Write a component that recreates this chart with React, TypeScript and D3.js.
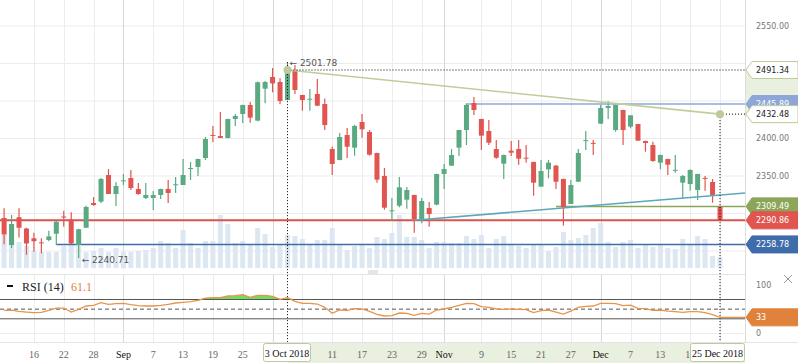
import React from 'react';
import * as d3 from 'd3';

// trading days shown on the chart (weekdays, one closed day)
const closedDays = ['2018-11-06'];
const fmtDay = d3.timeFormat('%Y-%m-%d');
const days = d3.timeDay
  .range(new Date(2018, 7, 10), new Date(2018, 11, 26))
  .filter(d => d.getDay() % 6 !== 0)
  .map(fmtDay)
  .filter(s => !closedDays.includes(s));

const openP = [
  2294, 2258, 2295, 2280, 2267, 2261.5, 2264.7, 2273, 2296, 2292,
  2258, 2281, 2314, 2315.8, 2351.3, 2326, 2343.5, 2347.3, 2332.7, 2320.7,
  2320.7, 2324.7, 2332.7, 2338.5, 2338, 2359.3, 2362, 2374, 2404.7, 2403.3,
  2400.7, 2426, 2432.7, 2444.7, 2423.8, 2466.4, 2482, 2475.3, 2451.3, 2491.3,
  2458, 2452.5, 2459.3, 2446, 2386, 2371.3, 2404.7, 2387.8, 2422, 2408.7,
  2380.7, 2350, 2303.5, 2310.4, 2318.4, 2324.7, 2291.3, 2307.3, 2311.8, 2352.7,
  2363.8, 2387.8, 2411.3, 2447.3, 2426, 2410, 2386, 2366.4, 2383.8, 2386,
  2374.4, 2368.7, 2335.8, 2358.9, 2363.8, 2346, 2312.7, 2342.4, 2397.3, 2394.2,
  2419.8, 2440.7, 2411.3, 2438, 2415.8, 2419.3, 2396.7, 2391.3, 2367.8, 2372.7,
  2357.8, 2341.1, 2339.3, 2331.3, 2347.5, 2342, 2309,
];
const highP = [
  2307, 2298, 2307, 2281, 2274.4, 2267, 2277, 2289.5, 2303.8, 2301.5,
  2279.5, 2310.4, 2322, 2347.3, 2359.3, 2342, 2352.7, 2358, 2340.7, 2340.7,
  2330, 2333, 2344.7, 2348.7, 2372.7, 2368.7, 2373, 2402, 2416.7, 2435.3,
  2426.5, 2432.7, 2445, 2448.7, 2476, 2476.7, 2494, 2480.2, 2501.78, 2498,
  2458.5, 2466, 2479.3, 2453.5, 2389, 2407.3, 2414, 2418.4, 2432.7, 2411.3,
  2381, 2360.7, 2320.7, 2348.7, 2335.3, 2325, 2320.7, 2315.3, 2353, 2366,
  2386, 2411.5, 2446.9, 2455.3, 2426.5, 2424.7, 2398, 2378.5, 2396.7, 2398,
  2391.3, 2369, 2371.3, 2371.3, 2364.7, 2346.5, 2344.7, 2386, 2410, 2398,
  2444.7, 2450, 2445, 2438.5, 2431, 2419.5, 2397, 2395.8, 2378.5, 2373,
  2378, 2351.3, 2358.9, 2353, 2350, 2346, 2309.5,
];
const lowP = [
  2259, 2254, 2268, 2245, 2249, 2247, 2263, 2258, 2282.4, 2259,
  2240.71, 2281, 2310.4, 2314, 2326, 2310, 2338, 2331.3, 2325, 2319.3,
  2304.7, 2319.3, 2314, 2327.3, 2338, 2344.7, 2350, 2371.3, 2395.3, 2400.5,
  2400, 2416.7, 2420.7, 2421.1, 2423, 2446.9, 2461.5, 2446, 2451, 2459.3,
  2437, 2437, 2443.5, 2411.3, 2351.3, 2371, 2374, 2377.1, 2401.1, 2377.1,
  2341.1, 2305.1, 2290, 2308.2, 2306.4, 2274.4, 2286.9, 2282.4, 2311, 2332.7,
  2363.5, 2376.7, 2391.3, 2431.3, 2384.7, 2391.3, 2373.1, 2346, 2376.7, 2365.1,
  2367.8, 2323.8, 2335.5, 2346.9, 2332.7, 2283.8, 2312.5, 2342, 2384.7, 2378,
  2419.5, 2426, 2409.1, 2391.3, 2413.6, 2397, 2382.4, 2369.1, 2358.9, 2351.3,
  2354.4, 2320.2, 2330.4, 2318, 2330.4, 2314.4, 2290,
];
const closeP = [
  2272, 2286, 2281, 2260, 2263, 2261, 2269.5, 2289, 2295.5, 2260,
  2279, 2308.7, 2311.3, 2346, 2326, 2336.7, 2344.2, 2334, 2326, 2324.7,
  2324.7, 2332.7, 2327.3, 2339, 2351.3, 2360.7, 2372.7, 2399.3, 2404.3, 2400.7,
  2426, 2430, 2444.7, 2427.8, 2475, 2475.3, 2473.5, 2450, 2491.34, 2464.7,
  2451.3, 2453, 2443.8, 2418, 2366, 2402, 2389, 2416.7, 2412.2, 2378.4,
  2345.1, 2307.8, 2304.2, 2334.9, 2331.3, 2292.7, 2316.7, 2299.3, 2352.7, 2359.3,
  2378, 2411.3, 2444.7, 2438, 2403.8, 2394.4, 2374.4, 2378, 2381.1, 2373.1,
  2374, 2341.1, 2356.7, 2367.8, 2342.4, 2308.2, 2338, 2380.7, 2397.8, 2393.8,
  2440.7, 2443.3, 2444.7, 2411.3, 2430.9, 2397.1, 2394, 2370, 2378, 2365.1,
  2358.2, 2350, 2358, 2352.7, 2347.1, 2324.7, 2290.86,
];
const volume = [
  33, 32, 26, 22, 17, 16, 16, 16, 22, 23,
  22, 16, 17, 20, 16, 20, 16, 16, 17, 18,
  20, 27, 25, 20, 38, 25, 20, 27, 27, 53,
  44, 25, 27, 24, 40, 34, 21, 24, 33, 32,
  29, 23, 28, 28, 40, 23, 18, 22, 23, 20,
  31, 29, 35, 53, 31, 31, 28, 20, 26, 26,
  25, 25, 32, 29, 33, 20, 29, 32, 23, 22,
  20, 24, 23, 17, 21, 36, 28, 30, 33, 40,
  45, 26, 21, 26, 28, 20, 23, 21, 23, 20,
  19, 29, 24, 32, 29, 12, 11,
];
const rsi = [
  47.5, 48, 45.4, 44, 42.7, 43.4, 47.5, 52.3, 52.3, 44,
  49.6, 56.5, 57.9, 63.4, 59.9, 61.3, 62, 59.2, 57.2, 56.5,
  56.5, 57.9, 59.9, 62.7, 64, 65.4, 68.2, 73, 73.7, 73.7,
  77.2, 77.9, 80, 74.4, 78.6, 78.6, 76.5, 70.3, 73.7, 66.1,
  62, 62, 60.6, 53.7, 41.3, 48.2, 47.5, 51, 50.3, 45.4,
  39.2, 35.8, 36.5, 42, 41.3, 37.2, 41.3, 39.9, 48.2, 50.3,
  53.7, 57.9, 62, 61.3, 55.1, 53.7, 50.3, 49.6, 50.3, 49.6,
  48.9, 42.7, 46.8, 48.2, 44, 39.9, 46.1, 53.7, 55.8, 56.5,
  62, 62, 61.3, 57.2, 58.5, 51.7, 51, 47.5, 48.2, 46.1,
  44.8, 43.4, 44.8, 44.8, 42.7, 38.5, 33,
];

const tickDays = [
  '2018-08-16', '2018-08-22', '2018-08-28', '2018-09-03', '2018-09-07', '2018-09-13',
  '2018-09-19', '2018-09-25', '2018-10-01', '2018-10-05', '2018-10-11', '2018-10-17',
  '2018-10-23', '2018-10-29', '2018-11-01', '2018-11-09', '2018-11-15', '2018-11-21',
  '2018-11-27', '2018-12-03', '2018-12-07', '2018-12-13', '2018-12-19', '2018-12-25',
];
const tickLabels = [
  '16', '22', '28', 'Sep', '7', '13', '19', '25', 'Oct', '5', '11', '17',
  '23', '29', 'Nov', '9', '15', '21', '27', 'Dec', '7', '13', '19', '25',
];
const priceTicks = [2250, 2300, 2350, 2400, 2450, 2500, 2550];

// horizontal levels: price, first day, colour
const levelPrices = [2258.78, 2445.89, 2309.49, 2290.86];
const levelStart = ['2018-08-21', '2018-11-07', '2018-11-23', '2018-08-10'];
const levelColors = ['#3f6cab', '#8ea7d8', '#8ba659', '#d9534f'];

const GREEN = '#5aa983';
const RED = '#e0554f';

export default function App() {
  const idx = new Map(days.map((d, i) => [d, i] as [string, number]));
  const right = 745;
  const x = d3.scaleLinear().domain([-0.55, 99.35]).range([0, right]);
  const y = d3.scaleLinear().domain([2227.33, 2584.67]).range([268, 0]);
  const yr = d3.scaleLinear().domain([0, 100]).range([333.3, 285]);
  const vh = d3.scaleLinear().domain([0, 60]).range([0, 60]);
  const volBase = 268;

  const iHigh = 38;
  const iLast = days.length - 1;
  const iLow = lowP.indexOf(d3.min(lowP) as number);

  const rsiLine = d3.line<number>().x((_, i) => x(i)).y(v => yr(v))(rsi) as string;
  const rsiArea = d3.area<number>()
    .x((_, i) => x(i))
    .y0(yr(70))
    .y1(v => yr(Math.max(v, 70)))(rsi) as string;

  const resistA = { i: iHigh, p: closeP[iHigh] };
  const resistB = { i: iLast, p: 2432.48 };
  const supportA = { i: idx.get('2018-10-26') as number, p: 2291 };
  const supportB = { i: iLast, p: 2324.5 };
  const supportEnd = x.invert(right);
  const supportPEnd = supportA.p + (supportB.p - supportA.p) * (supportEnd - supportA.i) / (supportB.i - supportA.i);

  // date boxes of the crosshairs on the time axis
  const boxA = { x0: 263.5, w: 47 };
  const boxB = { x0: 690.5, w: 54 };
  const hidden = (xx: number) =>
    (xx > boxA.x0 && xx < boxA.x0 + boxA.w) || (xx > boxB.x0 && xx < boxB.x0 + boxB.w);

  const tag = (p: number, fill: string, stroke: string, color: string, key: string, yy?: number) => {
    const cy = yy ?? y(p);
    return (
      <g key={key}>
        <path d={`M746,${cy} L752,${cy - 8.5} H798 V${cy + 8.5} H752 Z`} fill={fill} stroke={stroke} strokeWidth={1} />
        <text x={756} y={cy + 3} fontSize={8} fontFamily="DejaVu Sans" fill={color}>{key}</text>
      </g>
    );
  };

  // price tick labels that are not under a level tag
  const tagYs = [resistA.p, resistB.p, ...levelPrices].map(p => y(p));
  const freeTicks = priceTicks.filter(p => tagYs.every(t => Math.abs(t - y(p)) > 9));

  return (
    <svg width={798} height={363} style={{ position: 'absolute', left: 0, top: 0, background: '#fff' }}>
      {/* gridlines */}
      {priceTicks.map(p => (
        <line key={p} x1={0} x2={right} y1={y(p)} y2={y(p)} stroke="#ececec" />
      ))}
      {tickDays.map((d, k) => {
        const xx = Math.round(x(idx.get(d) as number)) + 0.5;
        const month = isNaN(+tickLabels[k]);
        const c = month ? '#d8d8d8' : '#ececec';
        return (
          <g key={d}>
            <line x1={xx} x2={xx} y1={0} y2={269} stroke={c} />
            <line x1={xx} x2={xx} y1={275} y2={342} stroke={c} />
          </g>
        );
      })}
      <line x1={0} x2={right} y1={274.5} y2={274.5} stroke="#e4e4e4" />
      <line x1={0} x2={right} y1={333.5} y2={333.5} stroke="#ececec" />
      <line x1={0} x2={798} y1={342.5} y2={342.5} stroke="#e4e4e4" />
      <line x1={right + 0.5} x2={right + 0.5} y1={0} y2={342} stroke="#dcdcdc" />

      {/* volume */}
      {volume.map((v, i) => (
        <rect key={i} x={x(i) - 2.5} y={volBase - vh(v)} width={5} height={vh(v)} fill="#dce7f2" />
      ))}

      {/* horizontal levels */}
      {levelPrices.map((p, k) => (
        <line key={p} x1={x(idx.get(levelStart[k]) as number) - (k === 3 ? 10 : 0)} x2={right}
          y1={y(p)} y2={y(p)} stroke={levelColors[k]} strokeWidth={k === 3 ? 2 : 1.5} />
      ))}

      {/* candles */}
      {openP.map((o, i) => {
        const c = closeP[i];
        const col = c >= o ? GREEN : RED;
        const top = y(Math.max(o, c));
        const h = Math.max(1, y(Math.min(o, c)) - top);
        return (
          <g key={i}>
            <line x1={x(i)} x2={x(i)} y1={y(highP[i])} y2={y(lowP[i])} stroke={col} strokeWidth={1.2} />
            <rect x={x(i) - 2.5} y={top} width={5} height={h} fill={col} />
          </g>
        );
      })}

      {/* trend lines */}
      <line x1={x(resistA.i)} y1={y(resistA.p)} x2={x(resistB.i)} y2={y(resistB.p)} stroke="#bfcd9c" strokeWidth={1.6} />
      <line x1={x(supportA.i)} y1={y(supportA.p)} x2={right} y2={y(supportPEnd)} stroke="#5aa9bb" strokeWidth={1.6} />

      {/* crosshair markers */}
      <line x1={x(iHigh)} x2={x(iHigh)} y1={y(highP[iHigh])} y2={342} stroke="#000" strokeDasharray="1,2" />
      <line x1={x(iLast)} x2={x(iLast)} y1={y(resistB.p)} y2={342} stroke="#000" strokeDasharray="1,2" />
      <line x1={x(iHigh)} x2={right} y1={y(resistA.p)} y2={y(resistA.p)} stroke="#000" strokeDasharray="1,2" />
      <line x1={x(iLast)} x2={right} y1={y(resistB.p)} y2={y(resistB.p)} stroke="#000" strokeDasharray="1,2" />
      <circle cx={x(iHigh)} cy={y(resistA.p)} r={4} fill="#bccb97" />
      <circle cx={x(iLast)} cy={y(resistB.p)} r={4} fill="#bccb97" />

      {/* high / low annotations */}
      <text x={x(iHigh) + 2} y={y(highP[iHigh]) + 4} fontSize={9} fontFamily="DejaVu Sans" fill="#555">
        {'\u2190 ' + highP[iHigh].toFixed(2)}
      </text>
      <text x={x(iLow) + 3} y={y(lowP[iLow]) + 5} fontSize={9} fontFamily="DejaVu Sans" fill="#555">
        {'\u2190 ' + lowP[iLow].toFixed(2)}
      </text>

      {/* RSI panel */}
      <path d={rsiArea} fill="#72dc62" />
      <line x1={0} x2={right} y1={yr(70)} y2={yr(70)} stroke="#555" />
      <line x1={0} x2={right} y1={yr(30)} y2={yr(30)} stroke="#555" />
      <line x1={0} x2={right} y1={yr(50)} y2={yr(50)} stroke="#555" strokeDasharray="4,3" />
      <path d={rsiLine} fill="none" stroke="#e8944a" strokeWidth={1.3} />
      <line x1={x(iLast)} x2={right} y1={yr(rsi[iLast])} y2={yr(rsi[iLast])} stroke="#e8944a" strokeWidth={1.3} />
      <rect x={7} y={285} width={6} height={2} fill="#111" />
      <text x={22} y={290.5} fontSize={12} fontFamily="Liberation Serif" fill="#222">RSI (14)</text>
      <text x={71} y={290.5} fontSize={12} fontFamily="Liberation Serif" fill="#e0823c">61.1</text>
      <line x1={368} x2={378} y1={271} y2={271} stroke="#ccc" />
      <line x1={368} x2={378} y1={273} y2={273} stroke="#ccc" />
      <line x1={784} x2={792} y1={275} y2={283} stroke="#999" />
      <line x1={784} x2={792} y1={283} y2={275} stroke="#999" />
      <text x={756} y={yr(100) + 3} fontSize={8} fontFamily="DejaVu Sans" fill="#777">100</text>
      <text x={756} y={yr(0) + 3} fontSize={8} fontFamily="DejaVu Sans" fill="#777">0</text>

      {/* price axis */}
      <rect x={746} y={y(resistA.p)} width={52} height={y(resistB.p) - y(resistA.p)} fill="#e9f0df" />
      {freeTicks.map(p => (
        <text key={p} x={756} y={y(p) + 3} fontSize={8} fontFamily="DejaVu Sans" fill="#777">{p.toFixed(2)}</text>
      ))}
      {tag(resistA.p, '#fff', '#bccb97', '#222', resistA.p.toFixed(2))}
      {tag(levelPrices[1], '#8ea7d8', '#8ea7d8', '#fff', levelPrices[1].toFixed(2))}
      {tag(resistB.p, '#fff', '#bccb97', '#222', resistB.p.toFixed(2))}
      {tag(levelPrices[2], '#8ba659', '#8ba659', '#fff', levelPrices[2].toFixed(2))}
      {tag(levelPrices[3], '#e0554f', '#e0554f', '#fff', levelPrices[3].toFixed(2))}
      {tag(levelPrices[0], '#3f6cab', '#3f6cab', '#fff', levelPrices[0].toFixed(2))}
      {tag(rsi[iLast], '#e0823c', '#e0823c', '#fff', String(rsi[iLast]), yr(rsi[iLast]))}

      {/* time axis */}
      <rect x={x(iHigh)} y={343} width={right - x(iHigh)} height={20} fill="#e9f0df" />
      {tickDays.map((d, k) => {
        const xx = x(idx.get(d) as number);
        if (hidden(xx)) return null;
        const month = isNaN(+tickLabels[k]);
        return (
          <text key={d} x={xx} y={357.5} textAnchor="middle" fontSize={10}
            fontFamily="Liberation Serif" fill={month ? '#111' : '#666'}>{tickLabels[k]}</text>
        );
      })}
      <rect x={boxA.x0} y={343.5} width={boxA.w} height={18} rx={2} fill="#fff" stroke="#bccb97" />
      <text x={boxA.x0 + boxA.w / 2} y={357} textAnchor="middle" fontSize={10} fontFamily="Liberation Serif" fill="#111">3 Oct 2018</text>
      <rect x={boxB.x0} y={343.5} width={boxB.w} height={18} rx={2} fill="#fff" stroke="#bccb97" />
      <text x={boxB.x0 + boxB.w / 2} y={357} textAnchor="middle" fontSize={10} fontFamily="Liberation Serif" fill="#111">25 Dec 2018</text>
    </svg>
  );
}
